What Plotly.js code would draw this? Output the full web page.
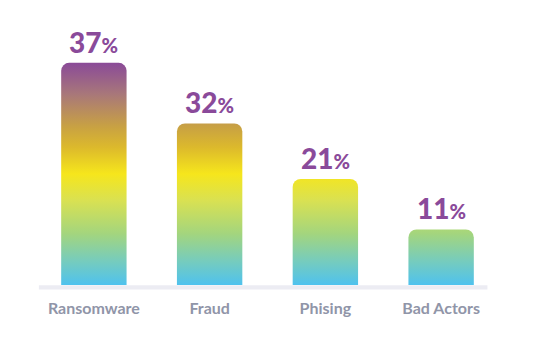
<!DOCTYPE html>
<html>
<head>
<meta charset="utf-8">
<script src="https://cdn.plot.ly/plotly-3.0.1.min.js"></script>
<style>html,body{margin:0;padding:0;background:#fff;}#chart{width:540px;height:358px;}</style>
</head>
<body>
<div id="chart"></div>
<script>
// Data
const categories = ['Ransomware', 'Fraud', 'Phising', 'Bad Actors'];
const percentValues = [37, 32, 21, 11];      // printed labels
const barHeights = [44, 32, 21, 11];         // drawn bar heights (first bar is drawn taller than its label)

const labelColor = '#8a4a9a';
const gradientStops = [
  [0.00, '#4fc2ee'],
  [0.11, '#77ccbc'],
  [0.23, '#a3d57e'],
  [0.38, '#d9e152'],
  [0.50, '#f6e61c'],
  [0.62, '#dcb92c'],
  [0.71, '#c9a242'],
  [0.86, '#a8777a'],
  [1.00, '#8a4a98']
];

const trace = {
  type: 'bar',
  x: categories,
  y: barHeights,
  marker: {color: '#f5e61c', cornerradius: 8, line: {width: 0}},
  hoverinfo: 'skip'
};

const annotations = categories.map((c, i) => ({
  x: c, y: barHeights[i], xref: 'x', yref: 'y',
  yanchor: 'bottom', showarrow: false, yshift: 2,
  text: percentValues[i] + '<span style="font-size:20px">%</span>',
  font: {family: 'Lato', size: 28, color: labelColor, weight: 900}
}));

const layout = {
  width: 540, height: 358,
  margin: {l: 36, r: 41, t: 10, b: 68},
  paper_bgcolor: '#ffffff', plot_bgcolor: '#ffffff',
  bargap: 0.435,
  showlegend: false,
  xaxis: {
    range: [-0.5, 3.5], showgrid: false, zeroline: false, showline: false,
    ticks: '', ticklabelstandoff: 7,
    tickfont: {family: 'Lato', size: 16, color: '#9095a8', weight: 'bold'},
    fixedrange: true
  },
  yaxis: {
    range: [-0.99, 54.46], visible: false, showgrid: false, zeroline: false, fixedrange: true
  },
  shapes: [{
    type: 'rect', xref: 'x', yref: 'y', ysizemode: 'pixel', yanchor: 0,
    x0: -0.475, x1: 3.40, y0: -4.5, y1: -0.2,
    fillcolor: '#ececf3', line: {width: 0}, layer: 'below'
  }],
  annotations: annotations
};

Plotly.newPlot('chart', [trace], layout, {displayModeBar: false, staticPlot: true}).then(gd => {
  const ya = gd._fullLayout.yaxis;
  const svg = gd.querySelector('.main-svg');
  let defs = svg.querySelector('defs');
  const NS = 'http://www.w3.org/2000/svg';
  if (!defs) { defs = document.createElementNS(NS, 'defs'); svg.insertBefore(defs, svg.firstChild); }
  const grad = document.createElementNS(NS, 'linearGradient');
  grad.setAttribute('id', 'barGrad');
  grad.setAttribute('gradientUnits', 'userSpaceOnUse');
  grad.setAttribute('x1', 0); grad.setAttribute('x2', 0);
  grad.setAttribute('y1', ya.c2p(0));
  grad.setAttribute('y2', ya.c2p(Math.max(...barHeights)));
  gradientStops.forEach(s => {
    const st = document.createElementNS(NS, 'stop');
    st.setAttribute('offset', s[0]);
    st.setAttribute('stop-color', s[1]);
    grad.appendChild(st);
  });
  defs.appendChild(grad);
  gd.querySelectorAll('.bars .point path').forEach(p => { p.style.fill = 'url(#barGrad)'; });
});
</script>
</body>
</html>
